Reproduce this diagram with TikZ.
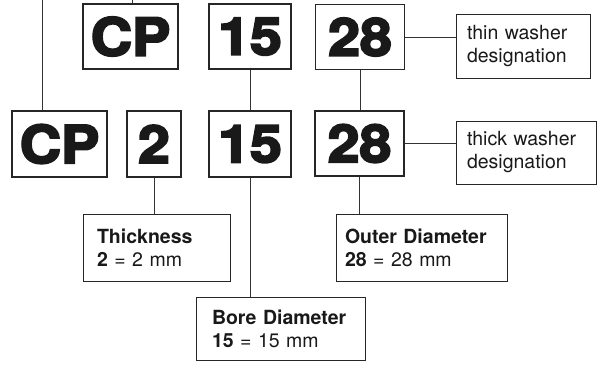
\documentclass[tikz,border=0pt]{standalone}
\usepackage{fontspec}
\setmainfont{TeX Gyre Heros}
\newfontfamily\heavyfont{texgyreheros-bold.otf}[FakeBold=4,FakeStretch=1.1]
\tikzset{
  codebox/.style={draw=black!85, line width=1.1pt, minimum height=65pt, inner sep=0pt, font=\heavyfont\fontsize{52}{52}\selectfont, text=black!90},
  notebox/.style={draw=black!85, line width=1pt, align=left, inner ysep=0pt, font=\fontsize{19.5}{23}\selectfont, text=black!90},
  linkline/.style={draw=black!80, line width=1pt}
}
\begin{document}
\begin{tikzpicture}[x=1pt, y=-1pt]
\useasboundingbox (0,0) rectangle (601,365);
% thin washer row
\node[codebox, minimum width=95pt] (cpT) at (130.5,36.5) {CP};
\node[codebox, minimum width=82pt] (fifT) at (250,36.5) {15};
\node[codebox, minimum width=89pt] (twoeT) at (360,37) {28};
\node[notebox, text width=112pt, inner xsep=11pt, minimum height=64pt] (thin) at (523,46) {thin washer\\designation};
% thick washer row
\node[codebox, minimum width=95pt, minimum height=66pt] (cpB) at (59.5,144) {CP};
\node[codebox, minimum width=54pt, minimum height=66pt] (two) at (154,144) {2};
\node[codebox, minimum width=82pt, minimum height=66pt] (fifB) at (250,144) {15};
\node[codebox, minimum width=89pt] (twoeB) at (359.5,143.5) {28};
\node[notebox, text width=118pt, inner xsep=11pt, minimum height=63pt] (thick) at (526,152.5) {thick washer\\designation};
% dimension notes
\node[notebox, text width=119pt, inner xsep=14pt, minimum height=67pt] (thickness) at (156.5,247.5) {\textbf{Thickness}\\\textbf{2} = 2 mm};
\node[notebox, text width=153pt, inner xsep=9pt, minimum height=67pt] (outer) at (421.5,247.5) {\textbf{Outer Diameter}\\\textbf{28} = 28 mm};
\node[notebox, text width=137pt, inner xsep=16pt, minimum height=63pt] (bore) at (280.5,328.5) {\textbf{Bore Diameter}\\\textbf{15} = 15 mm};
% lines running off the top edge
\coordinate (lefttop) at (42,0);
\coordinate (midtop) at (132,0);
\draw[linkline] (lefttop) -- (lefttop |- cpB.north);
\draw[linkline] (midtop) -- (midtop |- cpT.north);
\draw[linkline] (fifT.south) -- (fifB.north);
\draw[linkline] (twoeT.south) -- (twoeT.south |- twoeB.north);
\draw[linkline] (twoeT.east) -- (twoeT.east -| thin.west);
\draw[linkline] (twoeB.east) -- (twoeB.east -| thick.west);
\draw[linkline] (two.south) -- (two.south |- thickness.north);
\draw[linkline] (fifB.south) -- (fifB.south |- bore.north);
\draw[linkline] (twoeB.south) -- (twoeB.south |- outer.north);
\end{tikzpicture}
\end{document}
